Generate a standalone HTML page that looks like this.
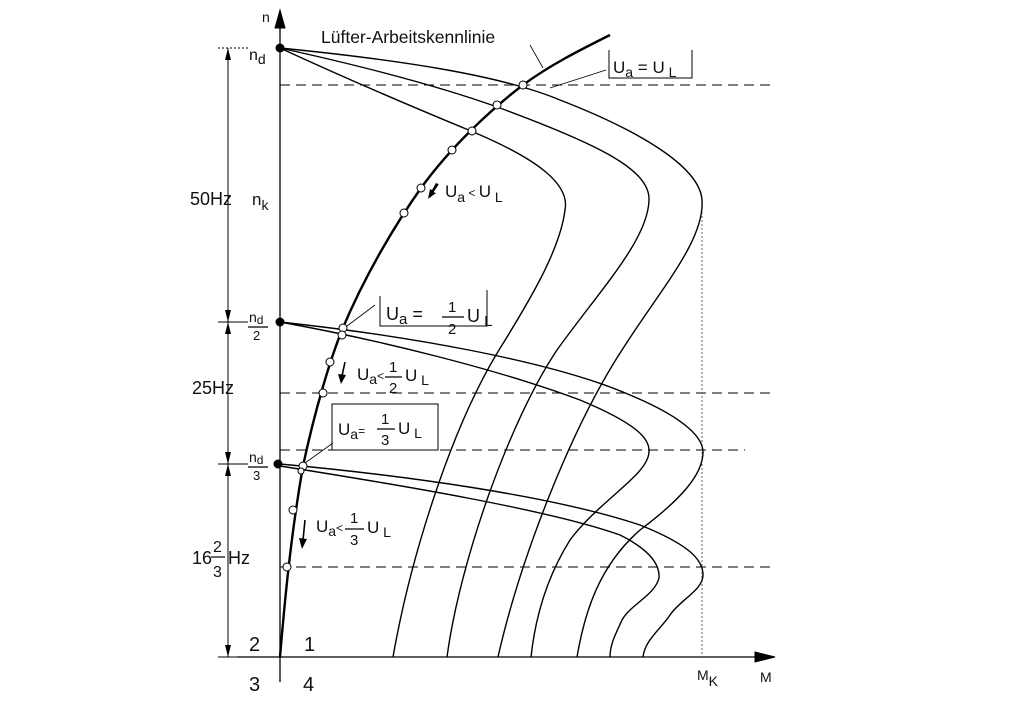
<!DOCTYPE html>
<html><head><meta charset="utf-8"><style>
html,body{margin:0;padding:0;background:#fff}
svg{display:block}
text{font-family:"Liberation Sans",sans-serif;fill:#111}
</style></head><body>
<svg width="1030" height="712" viewBox="0 0 1030 712" xmlns="http://www.w3.org/2000/svg">
<g stroke="#000" fill="none">
<line x1="280" y1="22" x2="280" y2="682" stroke-width="1.3"/>
<path d="M275,28 L280,10 L285,28 z" fill="#000"/>
<line x1="237" y1="657" x2="760" y2="657" stroke-width="1.3"/>
<path d="M755,652 L775,657 L755,662 z" fill="#000"/>
<g stroke-width="1" stroke-dasharray="10,6">
<line x1="280" y1="85" x2="775" y2="85"/>
<line x1="280" y1="393" x2="775" y2="393"/>
<line x1="280" y1="450" x2="745" y2="450"/>
<line x1="280" y1="567" x2="775" y2="567"/>
</g>
<line x1="702" y1="200" x2="702" y2="657" stroke-width="1" stroke-dasharray="2,2" stroke="#666"/>
<g stroke-width="1">
<line x1="228" y1="48" x2="228" y2="657"/>
<line x1="218" y1="48" x2="250" y2="48" stroke-dasharray="2,2"/>
<line x1="218" y1="322" x2="248" y2="322"/>
<line x1="218" y1="464" x2="248" y2="464"/>
<line x1="218" y1="657" x2="238" y2="657"/>
</g>
<g fill="#000" stroke="none">
<path d="M225,60 L228,48 L231,60 z"/>
<path d="M225,310 L228,322 L231,310 z"/>
<path d="M225,334 L228,322 L231,334 z"/>
<path d="M225,452 L228,464 L231,452 z"/>
<path d="M225,476 L228,464 L231,476 z"/>
<path d="M225,645 L228,657 L231,645 z"/>
</g>
<g stroke-width="1.4">
<path d="M280,48 C400,60 500,75 560,100 C650,135 700,170 702,200 C705,240 660,290 622,350 C570,430 520,560 498,657"/>
<path d="M280,48 C380,70 450,90 500,108 C600,145 650,170 649,200 C648,240 600,290 557,350 C510,420 460,560 447,657"/>
<path d="M280,48 C360,85 420,110 471,131 C540,160 570,185 565,210 C560,250 530,300 499,350 C450,430 410,560 393,657"/>
<path d="M280,322 C400,335 550,360 630,395 C690,420 703,440 703,452 C703,475 680,500 640,530 C600,565 585,610 577,657"/>
<path d="M280,322 C380,340 500,370 580,400 C640,425 650,440 649,452 C648,475 600,500 570,540 C545,580 535,620 531,657"/>
<path d="M280,464 C400,475 550,495 640,525 C690,545 703,560 703,575 C703,590 680,600 670,615 C660,630 645,640 643,657"/>
<path d="M280,466 C400,485 550,510 620,535 C650,550 660,565 659,578 C655,595 630,605 622,620 C615,635 610,645 610,657"/>
</g>
<path d="M280,657 C284,610 290,540 303,466 C315,410 330,360 342,330 C365,275 395,225 421,188 C450,148 490,110 523,85 C550,65 580,50 610,35" stroke-width="2.4"/>
<g stroke-width="0.8">
<line x1="530" y1="45" x2="543" y2="68"/>
<line x1="550" y1="88" x2="606" y2="70"/>
<line x1="347" y1="326" x2="375" y2="305"/>
<line x1="305" y1="463" x2="333" y2="443"/>
<path d="M609,50 L609,78 L692,78 L692,50" stroke-width="1"/>
<path d="M380,296 L380,326 L487,326 L487,290" stroke-width="1"/>
<rect x="332" y="404" width="106" height="46" stroke-width="1"/>
</g>
<g fill="#000" stroke="none">
<path d="M438,184 L433,192 L436,193 L428,199 L430,189 L432,190 L436,183 z"/>
</g>
<g stroke-width="1.6">
<line x1="438" y1="184" x2="432" y2="193"/>
<line x1="345" y1="362" x2="342" y2="376"/>
<line x1="305" y1="520" x2="303" y2="540"/>
</g>
<g fill="#000" stroke="none">
<path d="M338,374 L341,384 L346,375 z"/>
<path d="M299,538 L302,549 L307,539 z"/>
</g>
<g fill="#fff" stroke-width="1">
<circle cx="523" cy="85" r="4"/><circle cx="497" cy="105" r="4"/><circle cx="472" cy="131" r="4"/>
<circle cx="452" cy="150" r="4"/><circle cx="421" cy="188" r="4"/><circle cx="404" cy="213" r="4"/>
<circle cx="343" cy="328" r="4"/><circle cx="342" cy="335" r="4"/><circle cx="330" cy="362" r="4"/>
<circle cx="323" cy="393" r="4"/><circle cx="303" cy="466" r="4"/><circle cx="301" cy="471" r="3"/>
<circle cx="293" cy="510" r="4"/><circle cx="287" cy="567" r="4"/>
</g>
<g fill="#000" stroke="none">
<circle cx="280" cy="48" r="4.5"/><circle cx="280" cy="322" r="4.5"/><circle cx="278" cy="464" r="4.5"/>
</g>
<g stroke-width="1.2">
<line x1="248" y1="327" x2="268" y2="327"/>
<line x1="248" y1="467" x2="268" y2="467"/>
<line x1="211" y1="557" x2="225" y2="557"/>
<line x1="442" y1="317" x2="464" y2="317"/>
<line x1="385" y1="377" x2="402" y2="377"/>
<line x1="377" y1="429" x2="395" y2="429"/>
<line x1="345" y1="529" x2="364" y2="529"/>
</g>
</g>
<text x="262" y="22" font-size="14">n</text>
<text x="249" y="60" font-size="16">n<tspan font-size="14" dy="4">d</tspan></text>
<text x="321" y="43" font-size="17.5">Lüfter-Arbeitskennlinie</text>
<text x="613" y="73" font-size="17">U<tspan font-size="14" dy="4">a</tspan><tspan dy="-4"> = U</tspan><tspan font-size="14" dy="4"> L</tspan></text>
<text x="445" y="197" font-size="17">U<tspan font-size="14" dy="5">a</tspan><tspan font-size="12" dy="-5"> &lt; </tspan><tspan>U</tspan><tspan font-size="14" dy="5"> L</tspan></text>
<text x="190" y="205" font-size="18">50Hz</text>
<text x="252" y="205" font-size="17">n<tspan font-size="14" dy="5">k</tspan></text>
<text x="249" y="322" font-size="14">n<tspan font-size="12" dy="2">d</tspan></text>
<text x="253" y="340" font-size="13">2</text>
<text x="386" y="320" font-size="18">U<tspan font-size="15" dy="4">a</tspan><tspan dy="-4">  =</tspan></text>
<text x="448" y="312" font-size="15">1</text><text x="448" y="334" font-size="15">2</text>
<text x="467" y="322" font-size="18">U<tspan font-size="15" dy="4"> L</tspan></text>
<text x="357" y="380" font-size="17">U<tspan font-size="14" dy="4">a</tspan><tspan font-size="12" dy="-4">&lt;</tspan></text>
<text x="389" y="372" font-size="15">1</text><text x="389" y="393" font-size="15">2</text>
<text x="405" y="381" font-size="17">U<tspan font-size="14" dy="4"> L</tspan></text>
<text x="192" y="394" font-size="18">25Hz</text>
<text x="338" y="435" font-size="17">U<tspan font-size="14" dy="4">a</tspan><tspan font-size="12" dy="-4">=</tspan></text>
<text x="381" y="424" font-size="15">1</text><text x="381" y="445" font-size="15">3</text>
<text x="398" y="434" font-size="17">U<tspan font-size="14" dy="4"> L</tspan></text>
<text x="249" y="462" font-size="14">n<tspan font-size="12" dy="2">d</tspan></text>
<text x="253" y="480" font-size="13">3</text>
<text x="316" y="532" font-size="17">U<tspan font-size="14" dy="4">a</tspan><tspan font-size="12" dy="-4">&lt;</tspan></text>
<text x="350" y="523" font-size="15">1</text><text x="350" y="545" font-size="15">3</text>
<text x="367" y="533" font-size="17">U<tspan font-size="14" dy="4"> L</tspan></text>
<text x="192" y="564" font-size="18">16</text>
<text x="213" y="552" font-size="16">2</text><text x="213" y="577" font-size="16">3</text>
<text x="228" y="564" font-size="18">Hz</text>
<text x="249" y="651" font-size="20">2</text>
<text x="304" y="651" font-size="20">1</text>
<text x="249" y="691" font-size="20">3</text>
<text x="303" y="691" font-size="20">4</text>
<text x="697" y="680" font-size="14">M<tspan dy="6">K</tspan></text>
<text x="760" y="682" font-size="14">M</text>
</svg>
</body></html>
